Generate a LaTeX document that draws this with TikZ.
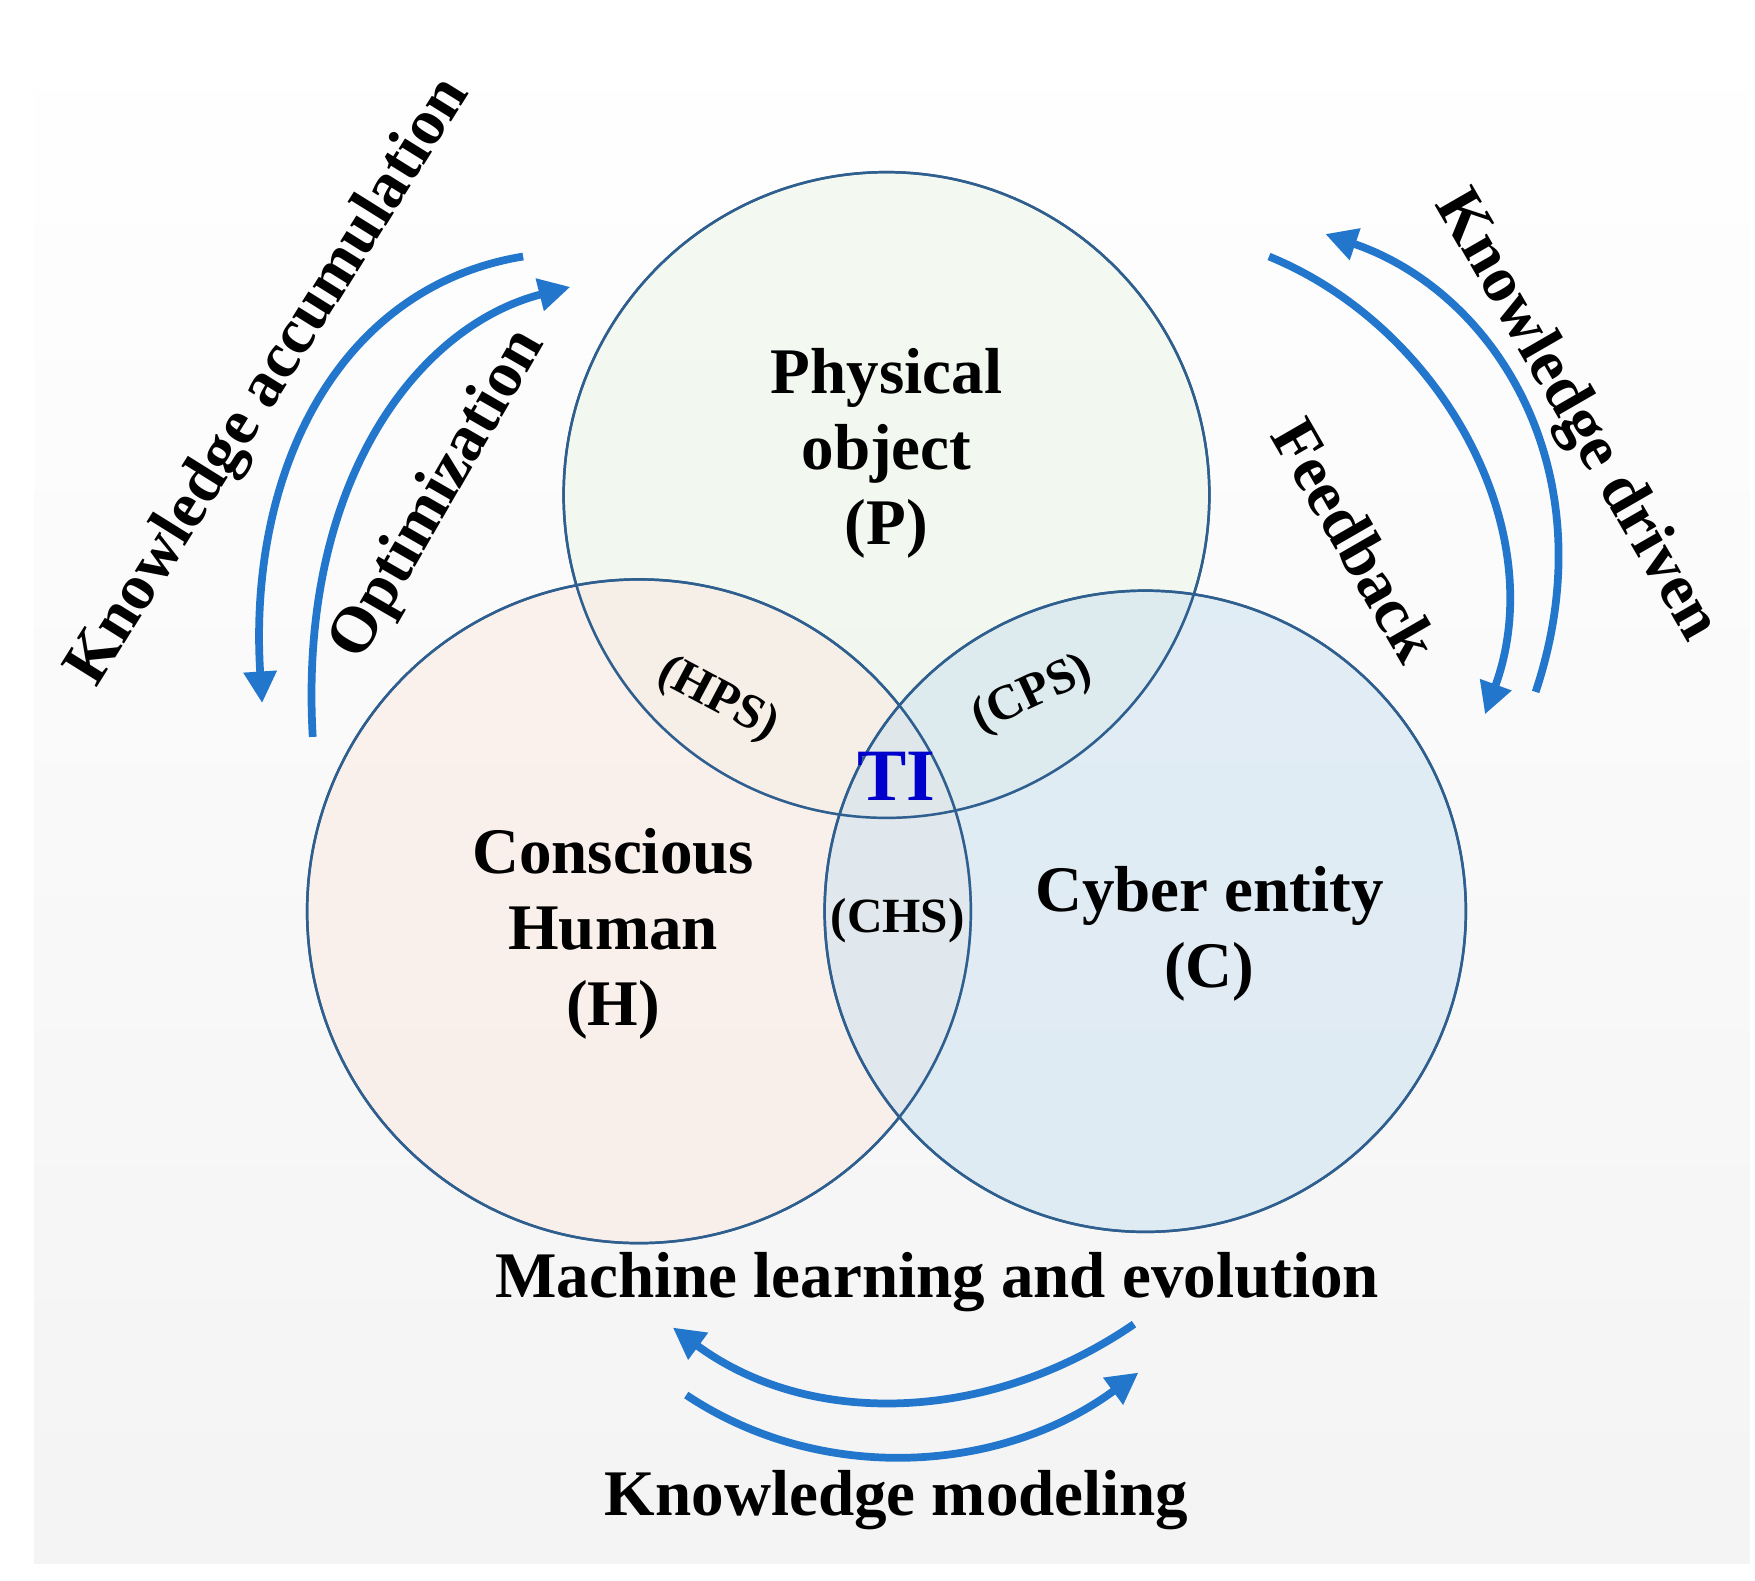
\documentclass[tikz,border=0pt]{standalone}
\usepackage{fontspec}
\setmainfont{Liberation Serif}
\usetikzlibrary{arrows.meta}
\definecolor{ring}{HTML}{2F5F8F}
\definecolor{arr}{HTML}{2277CC}
\begin{document}
\begin{tikzpicture}[x=0.01125cm,y=-0.01125cm,
  circ/.style={draw=ring,line width=0.7pt,fill opacity=0.55},
  lab/.style={font=\bfseries\fontsize{18.5}{21.5}\selectfont,align=center},
  sm/.style={font=\bfseries\fontsize{14}{17}\selectfont},
  ar/.style={draw=arr,line width=2.2pt,-{Triangle[length=9pt,width=9pt]}}]
\useasboundingbox (0,0) rectangle (1560,1405);
\shade[top color=white,bottom color=gray!9] (30,20) rectangle (1555,1390);
\fill[circ,fill={rgb,255:red,235;green,244;blue,230}] (788,440) circle (287);
\fill[circ,fill={rgb,255:red,250;green,234;blue,226}] (568,810) circle (295);
\fill[circ,fill={rgb,255:red,205;green,226;blue,240}] (1018,810) circle (285);
\draw[ring,line width=0.7pt] (788,440) circle (287) (568,810) circle (295) (1018,810) circle (285);
\node[lab] (P) at (788,403) {Physical\\object\\(P)};
\node[lab] (H) at (545,830) {Conscious\\Human\\(H)};
\node[lab] (C) at (1075,830) {Cyber entity\\(C)};
\node[sm,rotate=-28] (hps) at (638,622) {(HPS)};
\node[sm,rotate=25] (cps) at (918,618) {(CPS)};
\node[sm] (chs) at (798,818) {(CHS)};
\node[font=\bfseries\fontsize{21}{24}\selectfont,text=blue!80!black] (ti) at (797,690) {TI};
\node[lab] (ml) at (833,1140) {Machine learning and evolution};
\node[lab] (km) at (797,1333) {Knowledge modeling};
\node[lab,rotate=58] (ka) at (240,340) {Knowledge accumulation};
\node[lab,rotate=60] (op) at (390,440) {Optimization};
\node[lab,rotate=-60] (kd) at (1400,370) {Knowledge driven};
\node[lab,rotate=-60] (fb) at (1205,480) {Feedback};
\coordinate (a1) at (465,228); \coordinate (a2) at (233,625);
\coordinate (b1) at (278,655); \coordinate (b2) at (507,255);
\coordinate (c1) at (1365,615); \coordinate (c2) at (1178,208);
\coordinate (d1) at (1128,228); \coordinate (d2) at (1320,635);
\coordinate (e1) at (1008,1177); \coordinate (e2) at (598,1180);
\coordinate (f1) at (610,1240); \coordinate (f2) at (1012,1220);
\draw[ar] (a1) .. controls (300,255) and (220,420) .. (a2);
\draw[ar] (b1) .. controls (265,430) and (370,290) .. (b2);
\draw[ar] (c1) .. controls (1430,420) and (1330,260) .. (c2);
\draw[ar] (d1) .. controls (1280,290) and (1380,470) .. (d2);
\draw[ar] (e1) .. controls (880,1265) and (720,1270) .. (e2);
\draw[ar] (f1) .. controls (730,1320) and (890,1310) .. (f2);
\end{tikzpicture}
\end{document}
